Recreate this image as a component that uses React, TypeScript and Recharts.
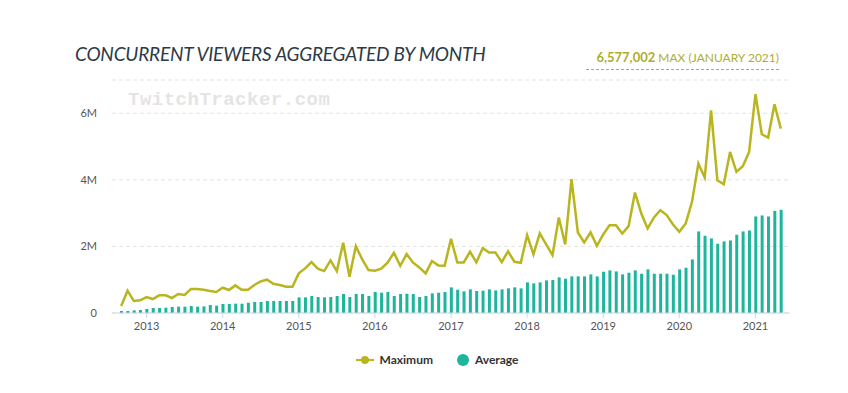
import { Bar, CartesianGrid, ComposedChart, Line, XAxis, YAxis } from "recharts";

// Sep 2012 .. May 2021, one entry per month
const months = [
  "2012-09", "2012-10", "2012-11", "2012-12",
  "2013-01", "2013-02", "2013-03", "2013-04", "2013-05", "2013-06", "2013-07", "2013-08", "2013-09", "2013-10", "2013-11", "2013-12",
  "2014-01", "2014-02", "2014-03", "2014-04", "2014-05", "2014-06", "2014-07", "2014-08", "2014-09", "2014-10", "2014-11", "2014-12",
  "2015-01", "2015-02", "2015-03", "2015-04", "2015-05", "2015-06", "2015-07", "2015-08", "2015-09", "2015-10", "2015-11", "2015-12",
  "2016-01", "2016-02", "2016-03", "2016-04", "2016-05", "2016-06", "2016-07", "2016-08", "2016-09", "2016-10", "2016-11", "2016-12",
  "2017-01", "2017-02", "2017-03", "2017-04", "2017-05", "2017-06", "2017-07", "2017-08", "2017-09", "2017-10", "2017-11", "2017-12",
  "2018-01", "2018-02", "2018-03", "2018-04", "2018-05", "2018-06", "2018-07", "2018-08", "2018-09", "2018-10", "2018-11", "2018-12",
  "2019-01", "2019-02", "2019-03", "2019-04", "2019-05", "2019-06", "2019-07", "2019-08", "2019-09", "2019-10", "2019-11", "2019-12",
  "2020-01", "2020-02", "2020-03", "2020-04", "2020-05", "2020-06", "2020-07", "2020-08", "2020-09", "2020-10", "2020-11", "2020-12",
  "2021-01", "2021-02", "2021-03", "2021-04", "2021-05",
];

// millions of viewers
const maximum = [
  0.21, 0.67, 0.36, 0.38,
  0.48, 0.42, 0.53, 0.53, 0.45, 0.57, 0.54, 0.72, 0.72, 0.7, 0.66, 0.63,
  0.76, 0.69, 0.83, 0.7, 0.7, 0.84, 0.95, 1.0, 0.88, 0.84, 0.79, 0.79,
  1.19, 1.34, 1.53, 1.33, 1.26, 1.58, 1.26, 2.11, 1.09, 2.01, 1.61, 1.29,
  1.27, 1.33, 1.51, 1.81, 1.42, 1.77, 1.52, 1.37, 1.19, 1.56, 1.43, 1.42,
  2.23, 1.52, 1.52, 1.84, 1.52, 1.95, 1.82, 1.82, 1.53, 1.85, 1.54, 1.51,
  2.34, 1.76, 2.39, 2.06, 1.74, 2.87, 2.06, 4.02, 2.42, 2.12, 2.42, 2.02,
  2.36, 2.64, 2.64, 2.39, 2.61, 3.62, 2.99, 2.54, 2.87, 3.09, 2.94, 2.66,
  2.44, 2.69, 3.34, 4.49, 4.07, 6.09, 3.99, 3.87, 4.84, 4.24, 4.41, 4.84,
  6.577, 5.37, 5.27, 6.27, 5.54,
];

const average = [
  0.06, 0.06, 0.08, 0.09,
  0.12, 0.15, 0.15, 0.16, 0.18, 0.19, 0.19, 0.21, 0.19, 0.2, 0.24, 0.22,
  0.27, 0.27, 0.28, 0.28, 0.31, 0.33, 0.33, 0.36, 0.36, 0.36, 0.36, 0.36,
  0.47, 0.47, 0.51, 0.48, 0.47, 0.48, 0.51, 0.57, 0.48, 0.57, 0.57, 0.51,
  0.63, 0.61, 0.63, 0.51, 0.57, 0.58, 0.57, 0.48, 0.51, 0.59, 0.61, 0.63,
  0.77, 0.7, 0.65, 0.71, 0.66, 0.67, 0.71, 0.68, 0.71, 0.74, 0.77, 0.74,
  0.92, 0.89, 0.92, 0.98, 0.99, 1.07, 1.03, 1.1, 1.1, 1.1, 1.16, 1.1,
  1.24, 1.28, 1.25, 1.16, 1.21, 1.28, 1.18, 1.31, 1.18, 1.18, 1.18, 1.15,
  1.31, 1.36, 1.61, 2.45, 2.32, 2.24, 2.08, 2.15, 2.18, 2.35, 2.45, 2.48,
  2.9, 2.93, 2.9, 3.07, 3.1,
];

const yearTicks = ["2013-01", "2014-01", "2015-01", "2016-01", "2017-01", "2018-01", "2019-01", "2020-01", "2021-01"];
const yTicks = [0, 2, 4, 6];

const MAX_COLOR = "#b9b51f";
const AVG_COLOR = "#1db59c";
const AXIS_COLOR = "#ccd6eb";
const FONT = "Lato, 'Open Sans', sans-serif";

const data = months.map((m, i) => ({ month: m, maximum: maximum[i], average: average[i] }));

export default function App() {
  return (
    <div style={{ position: "absolute", left: 0, top: 0, width: 848, height: 393, background: "#fff", fontFamily: FONT }}>
      <div
        style={{
          position: "absolute",
          left: 75,
          top: 42,
          fontSize: 19,
          fontStyle: "italic",
          color: "#2b3a48",
          whiteSpace: "nowrap",
          letterSpacing: -0.2,
        }}
      >
        CONCURRENT VIEWERS AGGREGATED BY MONTH
      </div>
      <div
        style={{
          position: "absolute",
          right: 69,
          top: 49,
          fontSize: 12,
          color: "#aeae2e",
          whiteSpace: "nowrap",
          paddingBottom: 4,
          paddingLeft: 10,
          borderBottom: "1px dashed #b9b51f",
        }}
      >
        <span style={{ fontWeight: 700, fontSize: 13 }}>6,577,002</span> MAX (JANUARY 2021)
      </div>
      <div
        style={{
          position: "absolute",
          left: 128,
          top: 89,
          fontFamily: "'Liberation Mono', 'DejaVu Sans Mono', monospace",
          fontWeight: 700,
          fontSize: 19,
          letterSpacing: 0.5,
          color: "#e4e4e4",
          whiteSpace: "nowrap",
        }}
      >
        TwitchTracker.com
      </div>

      <ComposedChart
        width={848}
        height={393}
        data={data}
        margin={{ top: 80, right: 58, bottom: 0, left: 0 }}
        style={{ position: "absolute", left: 0, top: 0 }}
      >
        <CartesianGrid stroke="#e3e3e3" strokeDasharray="4 3" vertical={false} />
        <XAxis
          dataKey="month"
          ticks={yearTicks}
          interval={0}
          tickFormatter={(v: string) => v.slice(0, 4)}
          padding={{ left: 6, right: 6 }}
          tick={{ fill: "#555", fontSize: 11, fontFamily: FONT }}
          tickSize={5}
          tickMargin={4}
          tickLine={{ stroke: AXIS_COLOR }}
          axisLine={{ stroke: AXIS_COLOR }}
          height={80}
        />
        <YAxis
          domain={[0, 7]}
          ticks={yTicks}
          tickFormatter={(v: number) => (v === 0 ? "0" : `${v}M`)}
          tick={{ fill: "#555", fontSize: 11, fontFamily: FONT }}
          tickSize={0}
          tickMargin={15}
          axisLine={false}
          tickLine={false}
          width={112}
        />
        <Bar dataKey="average" fill={AVG_COLOR} barSize={3} isAnimationActive={false} />
        <Line
          type="linear"
          dataKey="maximum"
          stroke={MAX_COLOR}
          strokeWidth={2.5}
          dot={false}
          isAnimationActive={false}
        />
      </ComposedChart>

      <div
        style={{
          position: "absolute",
          left: 0,
          top: 352,
          width: 848,
          display: "flex",
          justifyContent: "center",
          gap: 24,
          fontSize: 12,
          fontWeight: 700,
          color: "#333",
          paddingLeft: 26,
          boxSizing: "border-box",
        }}
      >
        <span style={{ display: "flex", alignItems: "center", gap: 6 }}>
          <svg width={18} height={10}>
            <line x1={0} y1={5} x2={18} y2={5} stroke={MAX_COLOR} strokeWidth={2} />
            <circle cx={9} cy={5} r={4} fill={MAX_COLOR} />
          </svg>
          Maximum
        </span>
        <span style={{ display: "flex", alignItems: "center", gap: 6 }}>
          <svg width={12} height={12}>
            <circle cx={6} cy={6} r={6} fill={AVG_COLOR} />
          </svg>
          Average
        </span>
      </div>
    </div>
  );
}
